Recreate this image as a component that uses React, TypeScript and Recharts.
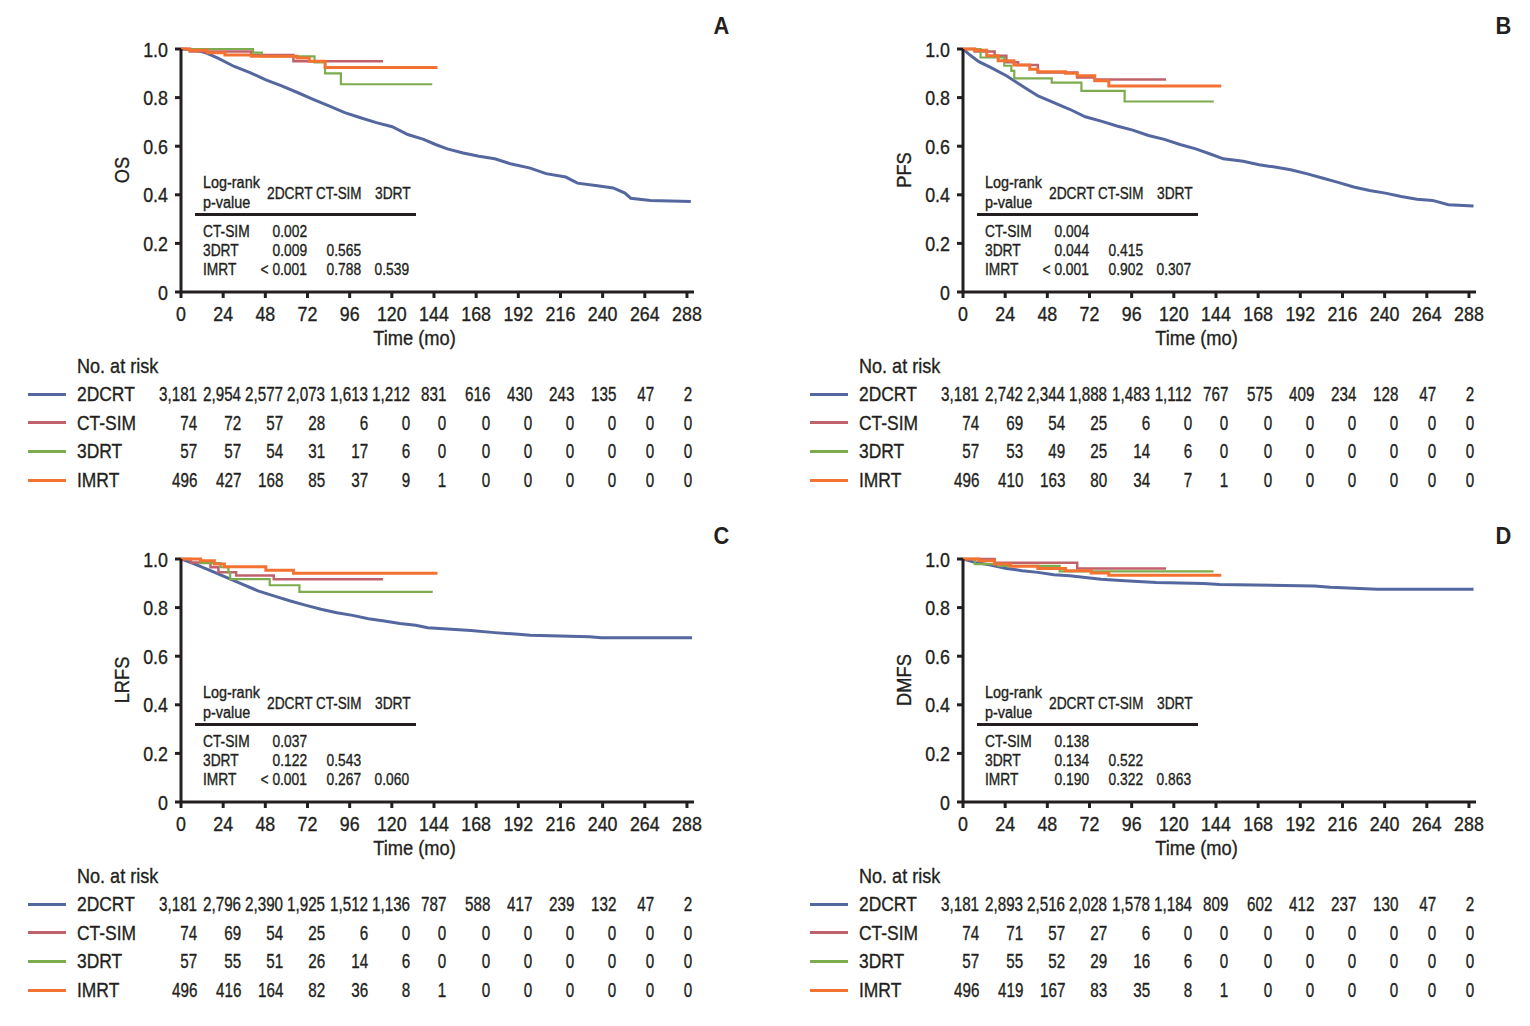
import React from 'react';
import { LineChart, Line, XAxis, YAxis } from 'recharts';

const FONT = "'Liberation Sans', Arial, sans-serif";
const INK = '#231f20';
const COLORS = { d2: '#55679f', ct: '#c0616b', d3: '#7dac4e', im: '#f37231' };
const GROUPS = ['2DCRT', 'CT-SIM', '3DRT', 'IMRT'];

const xTicks = [0, 24, 48, 72, 96, 120, 144, 168, 192, 216, 240, 264, 288];
const yTicks = [0, 0.2, 0.4, 0.6, 0.8, 1.0];

// ---- Panel A: OS ----
const os2DCRT: [number, number][] = [[0, 1], [7.9, 0.997], [14.6, 0.983], [21.3, 0.961], [30.3, 0.928], [39.3, 0.903], [48.3, 0.873], [57.3, 0.848], [66.3, 0.821], [75.2, 0.793], [84.2, 0.766], [93.2, 0.738], [102.2, 0.717], [111.2, 0.697], [120.2, 0.68], [129.1, 0.648], [138.1, 0.628], [144.9, 0.607], [151.6, 0.589], [160.6, 0.572], [169.6, 0.559], [178.6, 0.548], [187.5, 0.528], [198.8, 0.51], [207.8, 0.487], [219, 0.473], [225.7, 0.448], [237, 0.437], [246, 0.428], [252.7, 0.407], [256, 0.386], [267.3, 0.377], [290.2, 0.372]];
const osCTSIM: [number, number][] = [[0, 1], [5, 0.99], [40, 0.975], [64, 0.95], [115, 0.95]];
const os3DRT: [number, number][] = [[0, 1], [41, 0.985], [46, 0.97], [76, 0.945], [82, 0.9], [91, 0.855], [143, 0.855]];
const osIMRT: [number, number][] = [[0, 1], [5, 0.995], [15, 0.985], [25, 0.975], [40, 0.97], [66, 0.963], [73, 0.95], [82, 0.924], [146, 0.924]];

// ---- Panel B: PFS ----
const pfs2DCRT: [number, number][] = [[0, 1], [4, 0.975], [9, 0.948], [15.7, 0.924], [24.7, 0.89], [33.7, 0.848], [42.7, 0.807], [51.7, 0.779], [60.7, 0.752], [69.6, 0.721], [78.6, 0.703], [87.6, 0.683], [96.6, 0.666], [105.6, 0.644], [114.6, 0.628], [123.5, 0.607], [132.5, 0.589], [141.5, 0.566], [148.2, 0.548], [159.5, 0.538], [168.5, 0.524], [177.5, 0.514], [186.5, 0.503], [195.5, 0.487], [204.5, 0.469], [213.5, 0.451], [222.4, 0.432], [231.4, 0.418], [240.4, 0.407], [249.4, 0.393], [258.4, 0.382], [267.3, 0.377], [276.3, 0.359], [290.6, 0.354]];
const pfsCTSIM: [number, number][] = [[0, 1], [6.7, 0.99], [18, 0.972], [24.7, 0.945], [31.4, 0.934], [42.6, 0.903], [65, 0.883], [75, 0.874], [115.6, 0.874]];
const pfs3DRT: [number, number][] = [[0, 1], [10, 0.965], [23.5, 0.931], [27.5, 0.91], [29.2, 0.879], [50.5, 0.862], [67.4, 0.828], [92, 0.784], [142.8, 0.784]];
const pfsIMRT: [number, number][] = [[0, 1], [6.7, 0.995], [13.5, 0.972], [20, 0.952], [29, 0.934], [38, 0.917], [42.6, 0.906], [58.4, 0.9], [65, 0.89], [75, 0.869], [83, 0.848], [147, 0.848]];

// ---- Panel C: LRFS ----
const lrfs2DCRT: [number, number][] = [[0, 1], [7.9, 0.979], [16.8, 0.952], [25.8, 0.924], [34.8, 0.897], [43.8, 0.869], [52.8, 0.848], [61.8, 0.828], [70.7, 0.81], [79.7, 0.793], [88.7, 0.779], [97.7, 0.768], [106.7, 0.754], [115.7, 0.745], [124.6, 0.735], [133.6, 0.727], [140.4, 0.717], [156.1, 0.71], [165, 0.706], [178.5, 0.697], [192, 0.69], [198.8, 0.686], [232.5, 0.68], [239.2, 0.676], [290.9, 0.676]];
const lrfsCTSIM: [number, number][] = [[0, 1], [5.6, 0.986], [16.8, 0.966], [21.3, 0.945], [31.4, 0.932], [52.8, 0.917], [115, 0.917]];
const lrfs3DRT: [number, number][] = [[0, 1], [11.2, 0.983], [22.5, 0.966], [27, 0.945], [28, 0.917], [50.5, 0.892], [67.4, 0.865], [143.3, 0.865]];
const lrfsIMRT: [number, number][] = [[0, 1], [11.2, 0.993], [19, 0.979], [24.7, 0.968], [48.3, 0.954], [64, 0.941], [146, 0.941]];

// ---- Panel D: DMFS ----
const dmfs2DCRT: [number, number][] = [[0, 1], [6.7, 0.986], [15.7, 0.975], [24.7, 0.961], [33.7, 0.952], [42.7, 0.945], [51.7, 0.935], [60.7, 0.931], [69.6, 0.924], [78.6, 0.917], [92, 0.91], [110, 0.903], [137, 0.899], [146, 0.895], [200, 0.889], [209, 0.884], [235.9, 0.876], [290.6, 0.876]];
const dmfsCTSIM: [number, number][] = [[0, 1], [18, 0.985], [65, 0.961], [115.6, 0.961]];
const dmfs3DRT: [number, number][] = [[0, 1], [6.7, 0.979], [20, 0.972], [55, 0.949], [142.6, 0.949]];
const dmfsIMRT: [number, number][] = [[0, 1], [9, 0.993], [18, 0.979], [27, 0.97], [42.6, 0.961], [58.4, 0.952], [73, 0.942], [83, 0.933], [147, 0.933]];

// ---- p-value tables ----
const pA = [['0.002'], ['0.009', '0.565'], ['< 0.001', '0.788', '0.539']];
const pB = [['0.004'], ['0.044', '0.415'], ['< 0.001', '0.902', '0.307']];
const pC = [['0.037'], ['0.122', '0.543'], ['< 0.001', '0.267', '0.060']];
const pD = [['0.138'], ['0.134', '0.522'], ['0.190', '0.322', '0.863']];

// ---- numbers at risk ----
const riskA = [
  ['3,181', '2,954', '2,577', '2,073', '1,613', '1,212', '831', '616', '430', '243', '135', '47', '2'],
  ['74', '72', '57', '28', '6', '0', '0', '0', '0', '0', '0', '0', '0'],
  ['57', '57', '54', '31', '17', '6', '0', '0', '0', '0', '0', '0', '0'],
  ['496', '427', '168', '85', '37', '9', '1', '0', '0', '0', '0', '0', '0'],
];
const riskB = [
  ['3,181', '2,742', '2,344', '1,888', '1,483', '1,112', '767', '575', '409', '234', '128', '47', '2'],
  ['74', '69', '54', '25', '6', '0', '0', '0', '0', '0', '0', '0', '0'],
  ['57', '53', '49', '25', '14', '6', '0', '0', '0', '0', '0', '0', '0'],
  ['496', '410', '163', '80', '34', '7', '1', '0', '0', '0', '0', '0', '0'],
];
const riskC = [
  ['3,181', '2,796', '2,390', '1,925', '1,512', '1,136', '787', '588', '417', '239', '132', '47', '2'],
  ['74', '69', '54', '25', '6', '0', '0', '0', '0', '0', '0', '0', '0'],
  ['57', '55', '51', '26', '14', '6', '0', '0', '0', '0', '0', '0', '0'],
  ['496', '416', '164', '82', '36', '8', '1', '0', '0', '0', '0', '0', '0'],
];
const riskD = [
  ['3,181', '2,893', '2,516', '2,028', '1,578', '1,184', '809', '602', '412', '237', '130', '47', '2'],
  ['74', '71', '57', '27', '6', '0', '0', '0', '0', '0', '0', '0', '0'],
  ['57', '55', '52', '29', '16', '6', '0', '0', '0', '0', '0', '0', '0'],
  ['496', '419', '167', '83', '35', '8', '1', '0', '0', '0', '0', '0', '0'],
];

// right edges of risk-table columns (px, relative to panel)
const riskColRight = [197, 241, 283, 325, 368, 410, 446, 490, 532, 574, 616, 654, 692];

const toPts = (a: [number, number][]) => a.map(([t, s]) => ({ t, s }));

type PanelProps = {
  left: number; top: number; letter: string; ylabel: string;
  series: [number, number][][]; pv: string[][]; risk: string[][];
};

const Txt = ({ x, cy, h = 22, size, children, align = 'left', bold = false, k = 0.85 }: any) => {
  const style: React.CSSProperties = {
    position: 'absolute', top: cy - h / 2, height: h, lineHeight: `${h}px`,
    fontSize: size, fontFamily: FONT, color: INK, whiteSpace: 'nowrap',
    fontWeight: bold ? 700 : 400, WebkitTextStroke: bold ? undefined : `0.35px ${INK}`,
  };
  if (align === 'right') { style.left = x - 200; style.width = 200; style.textAlign = 'right'; }
  else if (align === 'center') { style.left = x - 100; style.width = 200; style.textAlign = 'center'; }
  else { style.left = x; }
  const origin = align === 'right' ? 'right' : align === 'center' ? 'center' : 'left';
  return (
    <div style={style}>
      <span style={{ display: 'inline-block', transform: `scaleX(${k})`, transformOrigin: `${origin} center` }}>{children}</span>
    </div>
  );
};

const XTick = ({ x, y, payload }: any) => (
  <text transform={`translate(${x},${y}) scale(0.85,1)`} textAnchor="middle" dy="0.72em"
    fontSize={21} fontFamily={FONT} fill={INK} stroke={INK} strokeWidth={0.35}>{payload.value}</text>
);
const YTick = ({ x, y, payload }: any) => (
  <text transform={`translate(${x},${y}) scale(0.85,1)`} textAnchor="end" dy="0.36em"
    fontSize={21} fontFamily={FONT} fill={INK} stroke={INK} strokeWidth={0.35}>{payload.value === 0 ? '0' : Number(payload.value).toFixed(1)}</text>
);

const Panel = ({ left, top, letter, ylabel, series, pv, risk }: PanelProps) => {
  const colors = [COLORS.d2, COLORS.ct, COLORS.d3, COLORS.im];
  const widths = [3, 2.5, 2.2, 3];
  const types: any[] = ['linear', 'stepAfter', 'stepAfter', 'stepAfter'];
  return (
    <div style={{ position: 'absolute', left, top, width: 748, height: 510 }}>
      <LineChart width={720} height={360} margin={{ top: 49, right: 26, bottom: 0, left: 0 }}>
        <XAxis dataKey="t" type="number" domain={[0, 292]} ticks={xTicks} allowDataOverflow
          axisLine={{ stroke: INK, strokeWidth: 3 }} tickLine={{ stroke: INK, strokeWidth: 3 }}
          tickSize={6} tickMargin={8} height={68} tick={<XTick />} interval={0} />
        <YAxis type="number" domain={[0, 1]} ticks={yTicks} width={181}
          axisLine={{ stroke: INK, strokeWidth: 3 }} tickLine={{ stroke: INK, strokeWidth: 3 }}
          tickSize={6} tickMargin={7} tick={<YTick />} interval={0} />
        {series.map((s, i) => (
          <Line key={i} data={toPts(s)} dataKey="s" type={types[i]} stroke={colors[i]}
            strokeWidth={widths[i]} dot={false} activeDot={false} isAnimationActive={false} />
        ))}
      </LineChart>

      {/* axis titles */}
      <div style={{ position: 'absolute', left: 122 - 60, top: 170 - 12, width: 120, height: 24, lineHeight: '24px', textAlign: 'center', transform: 'rotate(-90deg) scaleX(0.87)', fontFamily: FONT, fontSize: 21, color: INK, WebkitTextStroke: `0.35px ${INK}` }}>{ylabel}</div>
      <Txt x={414} cy={338} size={21} align="center" k={0.87}>Time (mo)</Txt>
      <Txt x={721} cy={26} size={23} align="center" bold k={0.95}>{letter}</Txt>

      {/* inset p-value table */}
      <Txt x={203} cy={183} h={18} size={16} k={0.9}>Log-rank</Txt>
      <Txt x={203} cy={203} h={18} size={16} k={0.9}>p-value</Txt>
      <Txt x={267} cy={194} h={18} size={16} k={0.86}>2DCRT</Txt>
      <Txt x={316} cy={194} h={18} size={16} k={0.84}>CT-SIM</Txt>
      <Txt x={375} cy={194} h={18} size={16} k={0.86}>3DRT</Txt>
      <div style={{ position: 'absolute', left: 195, top: 213, width: 221, height: 3, background: INK }} />
      {['CT-SIM', '3DRT', 'IMRT'].map((lab, r) => (
        <React.Fragment key={lab}>
          <Txt x={203} cy={232 + r * 19} h={18} size={16} k={0.86}>{lab}</Txt>
          {pv[r].map((v, c) => (
            <Txt key={c} x={[307, 361, 409][c]} cy={232 + r * 19} h={18} size={16} align="right" k={0.86}>{v}</Txt>
          ))}
        </React.Fragment>
      ))}

      {/* numbers at risk */}
      <Txt x={77} cy={366} size={21} k={0.86}>No. at risk</Txt>
      {GROUPS.map((g, r) => {
        const cy = 394 + r * 28.7;
        return (
          <React.Fragment key={g}>
            <div style={{ position: 'absolute', left: 28, top: cy - 1.5, width: 38, height: 3, background: colors[r] }} />
            <Txt x={77} cy={cy} size={21} k={0.83}>{g}</Txt>
            {risk[r].map((v, c) => (
              <Txt key={c} x={riskColRight[c]} cy={cy} size={20} align="right" k={0.76}>{v}</Txt>
            ))}
          </React.Fragment>
        );
      })}
    </div>
  );
};

export default function App() {
  return (
    <div style={{ position: 'absolute', left: 0, top: 0, width: 1530, height: 1026, background: '#fff', overflow: 'hidden' }}>
      <Panel left={0} top={0} letter="A" ylabel="OS" series={[os2DCRT, osCTSIM, os3DRT, osIMRT]} pv={pA} risk={riskA} />
      <Panel left={782} top={0} letter="B" ylabel="PFS" series={[pfs2DCRT, pfsCTSIM, pfs3DRT, pfsIMRT]} pv={pB} risk={riskB} />
      <Panel left={0} top={510} letter="C" ylabel="LRFS" series={[lrfs2DCRT, lrfsCTSIM, lrfs3DRT, lrfsIMRT]} pv={pC} risk={riskC} />
      <Panel left={782} top={510} letter="D" ylabel="DMFS" series={[dmfs2DCRT, dmfsCTSIM, dmfs3DRT, dmfsIMRT]} pv={pD} risk={riskD} />
    </div>
  );
}
